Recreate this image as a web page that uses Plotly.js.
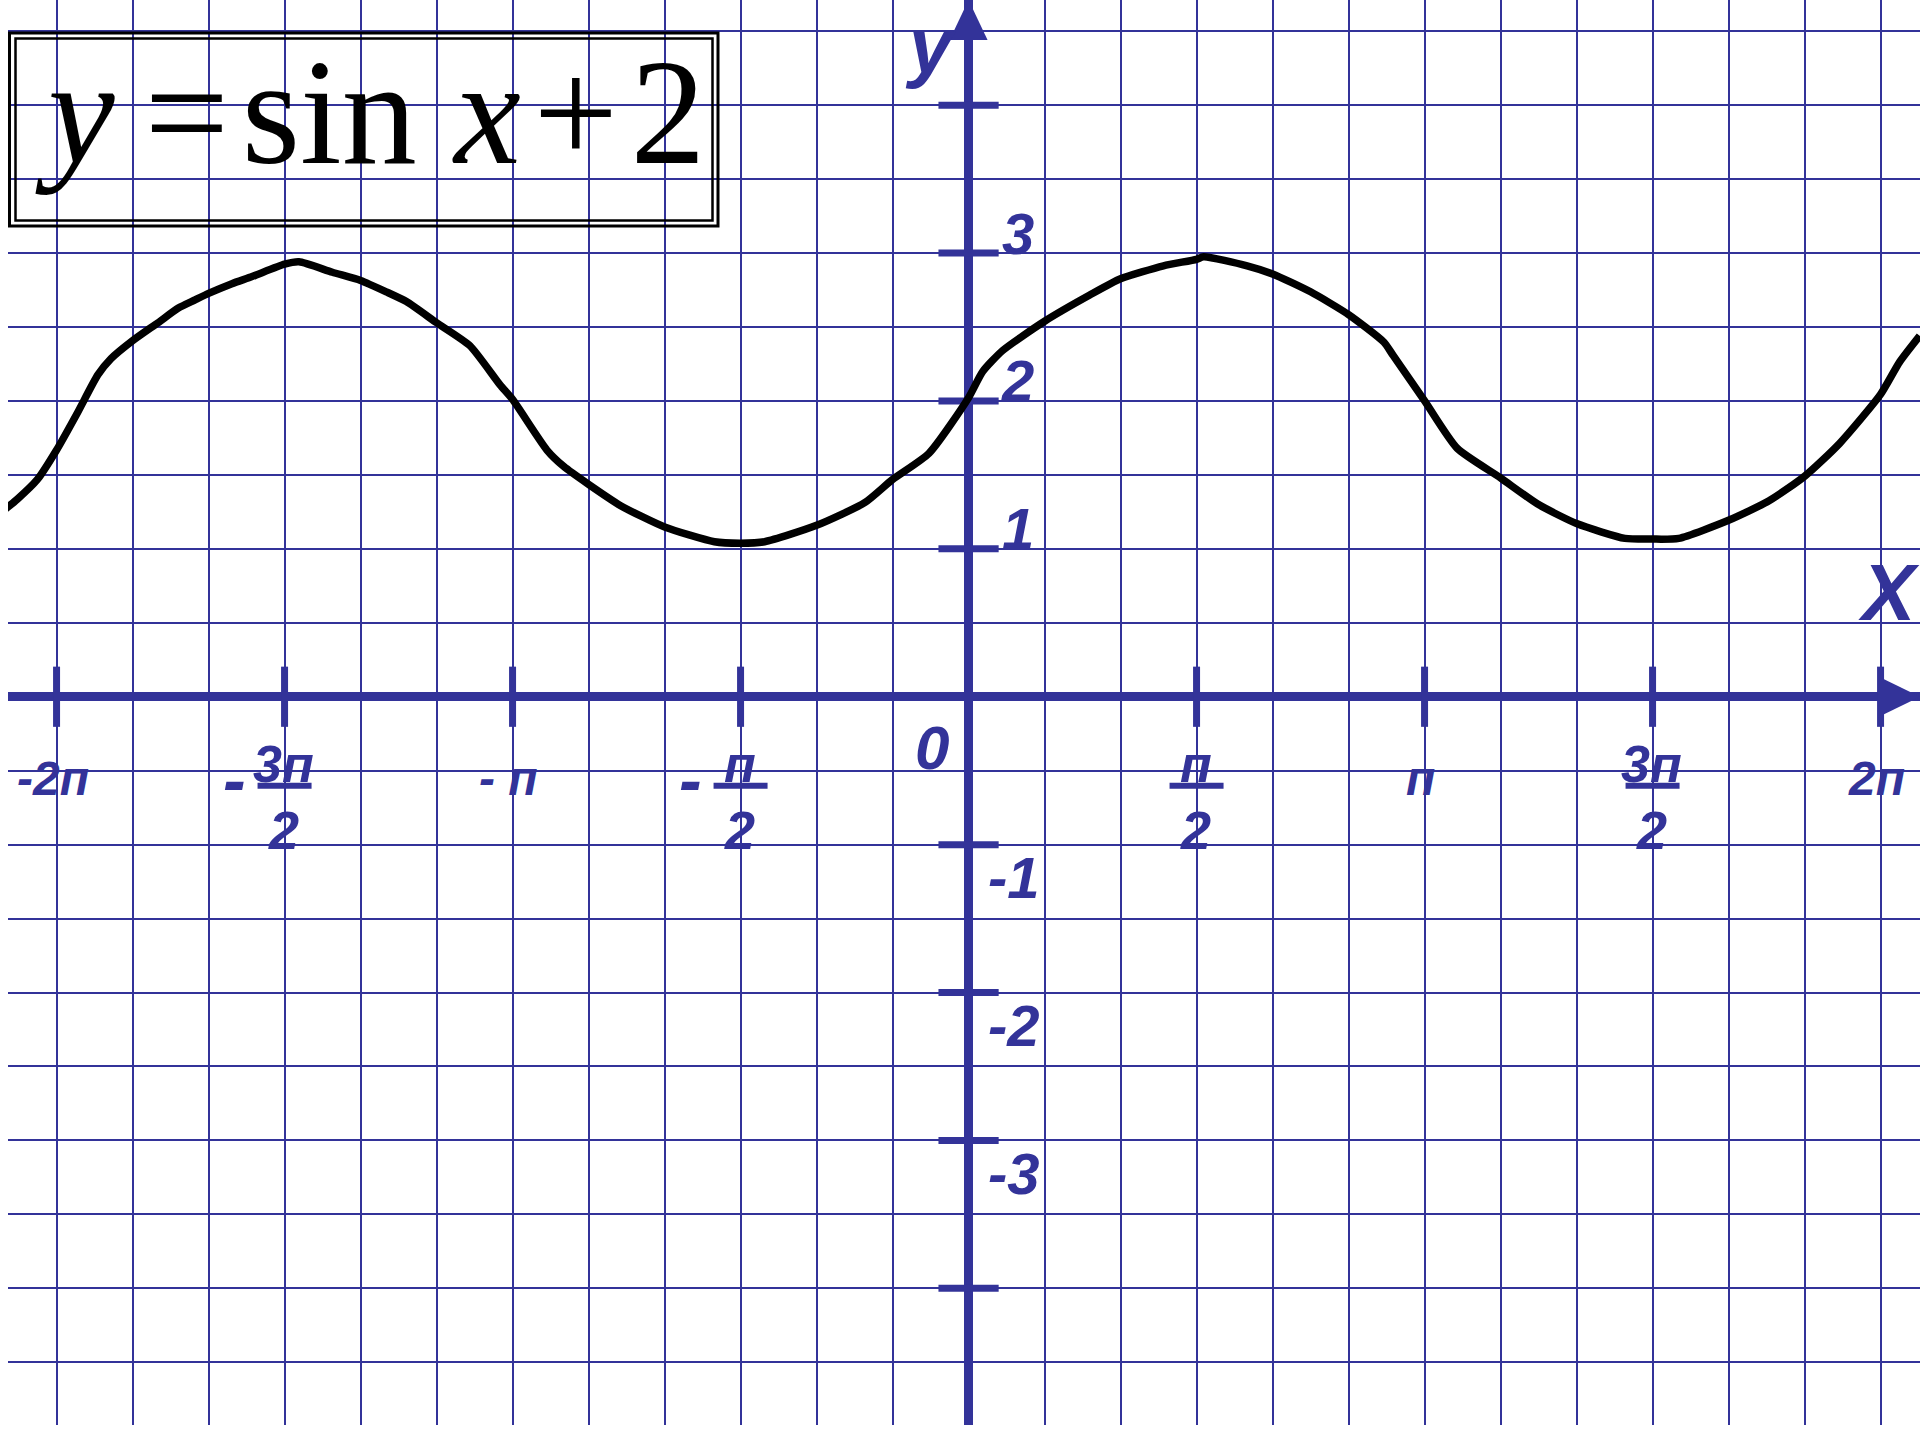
<!DOCTYPE html>
<html>
<head>
<meta charset="utf-8">
<title>y = sin x + 2</title>
<script src="https://cdn.plot.ly/plotly-3.0.1.min.js"></script>
<style>
  html, body { margin: 0; padding: 0; background: #fff; }
  #chart { width: 1920px; height: 1440px; }
</style>
</head>
<body>
<div id="chart"></div>
<script>
// y = sin x + 2 drawn on squared paper (one square = pi/6 along x, 0.5 along y)
// curve points: x in radians, y in units
const CURVE_X = [
  -6.691, -6.553, -6.415, -6.283, -6.138, -5.999, -5.908, -5.760, -5.584, -5.444,
  -5.329, -5.236, -5.075, -4.936, -4.712, -4.613, -4.383, -4.189, -4.012, -3.873,
  -3.665, -3.436, -3.229, -3.142, -2.905, -2.789, -2.618, -2.397, -2.094, -1.751,
  -1.571, -1.405, -1.047, -0.713, -0.524, -0.273, 0.000, 0.097, 0.235, 0.524,
  0.835, 1.047, 1.343, 1.571, 1.619, 1.919, 2.094, 2.356, 2.618, 2.862,
  2.925, 3.142, 3.366, 3.665, 3.921, 4.189, 4.522, 4.712, 4.893, 5.236,
  5.515, 5.760, 6.000, 6.283, 6.415, 6.553
];
const CURVE_Y = [
  1.226, 1.336, 1.469, 1.668, 1.922, 2.176, 2.286, 2.407, 2.529, 2.628,
  2.683, 2.727, 2.793, 2.841, 2.925, 2.941, 2.870, 2.815, 2.738, 2.672,
  2.529, 2.374, 2.110, 2.011, 1.668, 1.557, 1.436, 1.292, 1.148, 1.048,
  1.038, 1.048, 1.159, 1.314, 1.469, 1.646, 2.022, 2.198, 2.341, 2.539,
  2.716, 2.826, 2.914, 2.958, 2.975, 2.914, 2.859, 2.738, 2.584, 2.397,
  2.308, 2.000, 1.680, 1.480, 1.303, 1.171, 1.071, 1.066, 1.071, 1.193,
  1.325, 1.491, 1.712, 2.044, 2.264, 2.440
];

// axis ticks: x in multiples of pi/2, y in units
const X_TICK_HALFPI = [-4, -3, -2, -1, 1, 2, 3, 4];
const X_TICK_TEXT = ["-2п", "-3п/2", "- п", "-п/2", "п/2", "п", "3п/2", "2п"];
const Y_TICKS = [-4, -3, -2, -1, 1, 2, 3, 4];
const Y_TICK_TEXT = ["", "-3", "-2", "-1", "1", "2", "3", ""];
const ORIGIN_TEXT = "0";
const X_NAME = "X";
const Y_NAME = "y";
const TITLE_TEXT = "<i>y</i>\u2009=\u200Asin <i>x</i>\u200A+\u200A2";

(function () {
  "use strict";
  const BLUE = "#333399";
  const CELL = Math.PI / 6;
  const LABEL_FONT = "Liberation Sans, Arimo, Arial, sans-serif";

  const xRange = [-12.639 * CELL, 12.519 * CELL];
  const yRange = [-4.924, 4.711];
  const xTicks = X_TICK_HALFPI.map(k => k * Math.PI / 2);

  // ---- helpers ----
  function label(text, x, y, dx, dy, size, yanchor) {
    return {
      text: text, x: x, y: y, xref: "x", yref: "y",
      xanchor: "center", yanchor: yanchor || "middle", xshift: dx, yshift: dy,
      showarrow: false,
      font: { family: LABEL_FONT, size: size, color: BLUE, weight: "bold", style: "italic" }
    };
  }
  // pixel-sized shape pinned to a data point
  function pinned(extra, ax, ay) {
    return Object.assign({
      xref: "x", yref: "y", xsizemode: "pixel", ysizemode: "pixel",
      xanchor: ax, yanchor: ay, layer: "above"
    }, extra);
  }

  const annotations = [];
  const shapes = [];

  // ---- x tick labels (fractions get a bar) ----
  X_TICK_TEXT.forEach(function (t, i) {
    const xv = xTicks[i];
    if (t.indexOf("/") >= 0) {
      let [num, den] = t.split("/");
      if (num[0] === "-") {
        annotations.push(label("-", xv, 0, -50, -83, 68));
        num = num.slice(1);
      }
      annotations.push(label(num, xv, 0, -1, -67, 52));
      annotations.push(label(den, xv, 0, -1, -133, 54));
      shapes.push(pinned({ type: "line", x0: -27, x1: 27, y0: -89, y1: -89,
                           line: { color: BLUE, width: 6 } }, xv, 0));
    } else {
      annotations.push(label(t, xv, 0, -4, -82, 48));
    }
  });

  // ---- y tick labels ----
  Y_TICKS.forEach(function (v, i) {
    const t = Y_TICK_TEXT[i];
    if (!t) return;
    if (v > 0) annotations.push(label(t, 0, v, 49, 20, 58));
    else annotations.push(label(t, 0, v, 45, -33, 58));
  });

  annotations.push(label(ORIGIN_TEXT, 0, 0, -37, -51, 62));
  annotations.push(label(X_NAME, xRange[1], 0, -31, 104, 80));
  annotations.push(label(Y_NAME, 0, yRange[1], -38, 0, 78, "top"));

  // ---- title in a double frame ----
  annotations.push({
    text: TITLE_TEXT, xref: "paper", yref: "paper", x: 0, y: 1,
    xanchor: "left", yanchor: "middle", xshift: 25, yshift: -112, showarrow: false,
    font: { family: "Liberation Serif, Times New Roman, serif", size: 150, color: "#000" }
  });
  const frame = { type: "rect", xref: "paper", yref: "paper", xsizemode: "pixel", ysizemode: "pixel",
                  xanchor: 0, yanchor: 1, fillcolor: "rgba(0,0,0,0)", layer: "above" };
  shapes.push(Object.assign({}, frame, { x0: 1.5, x1: 710, y0: -33, y1: -226, line: { color: "#000", width: 3 } }));
  shapes.push(Object.assign({}, frame, { x0: 7.5, x1: 704.5, y0: -38.5, y1: -220.5, line: { color: "#000", width: 2.5 } }));

  // ---- axis arrow heads ----
  shapes.push(pinned({ type: "path", path: "M0,0 L-19,-40 L19,-40 Z",
                       fillcolor: BLUE, line: { width: 0 } }, 0, yRange[1]));
  shapes.push(pinned({ type: "path", path: "M0,0 L-38,18.5 L-38,-18.5 Z",
                       fillcolor: BLUE, line: { width: 0 } }, xRange[1], 0));

  // ---- traces ----
  // line-ns / line-ew symbols are 1.4 x size long, so 43 gives ~60 px ticks
  const xTickMarks = {
    x: xTicks, y: xTicks.map(() => 0), mode: "markers", hoverinfo: "skip",
    marker: { symbol: "line-ns", size: 43, line: { color: BLUE, width: 7 } }
  };
  const yTickMarks = {
    x: Y_TICKS.map(() => 0), y: Y_TICKS, mode: "markers", hoverinfo: "skip",
    marker: { symbol: "line-ew", size: 43, line: { color: BLUE, width: 7 } }
  };
  const curve = {
    x: CURVE_X, y: CURVE_Y, mode: "lines", hoverinfo: "skip",
    line: { color: "#000", width: 7.5, shape: "spline", smoothing: 0.6 }
  };

  const axisBase = {
    showgrid: true, gridcolor: BLUE, gridwidth: 2,
    zeroline: true, zerolinecolor: BLUE, zerolinewidth: 9,
    showticklabels: false, ticks: "", showline: false, fixedrange: true
  };

  Plotly.newPlot("chart", [xTickMarks, yTickMarks, curve], {
    width: 1920, height: 1440,
    margin: { l: 8, r: 0, t: 0, b: 15, pad: 0 },
    paper_bgcolor: "#fff", plot_bgcolor: "#fff", showlegend: false,
    xaxis: Object.assign({ range: xRange, tick0: 0, dtick: CELL }, axisBase),
    yaxis: Object.assign({ range: yRange, tick0: 0, dtick: 0.5 }, axisBase),
    annotations: annotations,
    shapes: shapes
  }, { staticPlot: true, displayModeBar: false });
})();
</script>
</body>
</html>
